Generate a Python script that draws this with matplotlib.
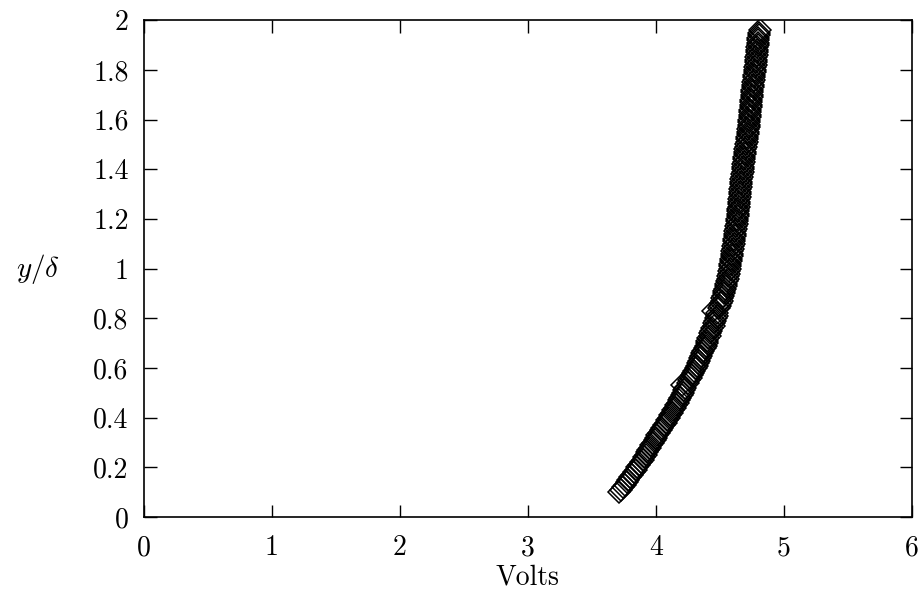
import matplotlib
matplotlib.use("Agg")
import matplotlib.pyplot as plt

plt.rcParams["font.family"] = "cmr10"
plt.rcParams["mathtext.fontset"] = "cm"
plt.rcParams["axes.formatter.use_mathtext"] = True

# y/delta positions of the profile
y_delta = [
    0.10, 0.11, 0.12, 0.13, 0.14, 0.15, 0.16, 0.17, 0.18, 0.19,
    0.20, 0.21, 0.22, 0.23, 0.24, 0.25, 0.26, 0.27, 0.28, 0.29,
    0.30, 0.31, 0.32, 0.33, 0.34, 0.35, 0.36, 0.37, 0.38, 0.39,
    0.40, 0.41, 0.42, 0.43, 0.44, 0.45, 0.46, 0.47, 0.48, 0.49,
    0.50, 0.51, 0.52, 0.53, 0.54, 0.55, 0.56, 0.57, 0.58, 0.59,
    0.60, 0.61, 0.62, 0.63, 0.64, 0.65, 0.66, 0.67, 0.68, 0.69,
    0.70, 0.71, 0.72, 0.73, 0.74, 0.75, 0.76, 0.77, 0.78, 0.79,
    0.80, 0.81, 0.82, 0.83, 0.84, 0.85, 0.86, 0.87, 0.88, 0.89,
    0.90, 0.91, 0.92, 0.93, 0.94, 0.95, 0.96, 0.97, 0.98, 0.99,
    1.00, 1.01, 1.02, 1.03, 1.04, 1.05, 1.06, 1.07, 1.08, 1.09,
    1.10, 1.11, 1.12, 1.13, 1.14, 1.15, 1.16, 1.17, 1.18, 1.19,
    1.20, 1.21, 1.22, 1.23, 1.24, 1.25, 1.26, 1.27, 1.28, 1.29,
    1.30, 1.31, 1.32, 1.33, 1.34, 1.35, 1.36, 1.37, 1.38, 1.39,
    1.40, 1.41, 1.42, 1.43, 1.44, 1.45, 1.46, 1.47, 1.48, 1.49,
    1.50, 1.51, 1.52, 1.53, 1.54, 1.55, 1.56, 1.57, 1.58, 1.59,
    1.60, 1.61, 1.62, 1.63, 1.64, 1.65, 1.66, 1.67, 1.68, 1.69,
    1.70, 1.71, 1.72, 1.73, 1.74, 1.75, 1.76, 1.77, 1.78, 1.79,
    1.80, 1.81, 1.82, 1.83, 1.84, 1.85, 1.86, 1.87, 1.88, 1.89,
    1.90, 1.91, 1.92, 1.93, 1.94, 1.95, 1.96,
]

# anemometer output voltage
volts = [
    3.710, 3.725, 3.740, 3.755, 3.770, 3.785, 3.800, 3.815, 3.830, 3.845,
    3.855, 3.870, 3.880, 3.895, 3.905, 3.920, 3.930, 3.940, 3.950, 3.965,
    3.975, 3.990, 4.000, 4.010, 4.025, 4.040, 4.050, 4.060, 4.075, 4.090,
    4.100, 4.110, 4.125, 4.130, 4.150, 4.160, 4.170, 4.180, 4.190, 4.200,
    4.210, 4.220, 4.230, 4.200, 4.250, 4.260, 4.270, 4.280, 4.290, 4.300,
    4.310, 4.320, 4.330, 4.340, 4.345, 4.355, 4.360, 4.370, 4.380, 4.390,
    4.395, 4.400, 4.410, 4.420, 4.425, 4.430, 4.440, 4.450, 4.455, 4.460,
    4.470, 4.475, 4.480, 4.445, 4.495, 4.500, 4.510, 4.515, 4.520, 4.525,
    4.530, 4.535, 4.540, 4.545, 4.550, 4.555, 4.560, 4.564, 4.568, 4.572,
    4.576, 4.579, 4.582, 4.585, 4.588, 4.591, 4.594, 4.597, 4.600, 4.603,
    4.606, 4.609, 4.612, 4.615, 4.618, 4.621, 4.624, 4.627, 4.630, 4.633,
    4.636, 4.638, 4.640, 4.642, 4.644, 4.646, 4.648, 4.650, 4.652, 4.654,
    4.656, 4.658, 4.660, 4.662, 4.664, 4.666, 4.668, 4.671, 4.674, 4.677,
    4.680, 4.682, 4.684, 4.686, 4.688, 4.690, 4.693, 4.696, 4.699, 4.702,
    4.705, 4.708, 4.711, 4.714, 4.717, 4.720, 4.722, 4.724, 4.726, 4.728,
    4.730, 4.732, 4.734, 4.736, 4.738, 4.740, 4.742, 4.744, 4.746, 4.748,
    4.750, 4.752, 4.754, 4.756, 4.758, 4.760, 4.763, 4.766, 4.769, 4.772,
    4.775, 4.777, 4.779, 4.781, 4.783, 4.785, 4.787, 4.789, 4.791, 4.793,
    4.795, 4.797, 4.799, 4.801, 4.804, 4.807, 4.810,
]

x_ticks = [0, 1, 2, 3, 4, 5, 6]
y_ticks = [0, 0.2, 0.4, 0.6, 0.8, 1.0, 1.2, 1.4, 1.6, 1.8, 2.0]
y_tick_labels = ["0", "0.2", "0.4", "0.6", "0.8", "1", "1.2", "1.4", "1.6", "1.8", "2"]

fig = plt.figure(figsize=(9.23, 5.93), dpi=100)
ax = fig.add_axes([0.156, 0.128, 0.832, 0.838])

ax.plot(volts, y_delta, linestyle="none", marker="D", markersize=11.5,
        markerfacecolor="none", markeredgecolor="black", markeredgewidth=1.1)

ax.set_xlim(0, 6)
ax.set_ylim(0, 2)
ax.set_xticks(x_ticks)
ax.set_xticklabels([str(t) for t in x_ticks])
ax.set_yticks(y_ticks)
ax.set_yticklabels(y_tick_labels)
ax.tick_params(direction="in", length=9, width=1.0, top=True, right=True,
               labelsize=20)
ax.tick_params(axis="x", pad=13)
ax.tick_params(axis="y", pad=11)
for s in ax.spines.values():
    s.set_linewidth(1.2)

ax.set_xlabel("Volts", fontsize=20, labelpad=2)
ax.set_ylabel(r"$y/\delta$", fontsize=21, rotation=0, labelpad=40, va="center")

fig.savefig("out.png", dpi=100)
